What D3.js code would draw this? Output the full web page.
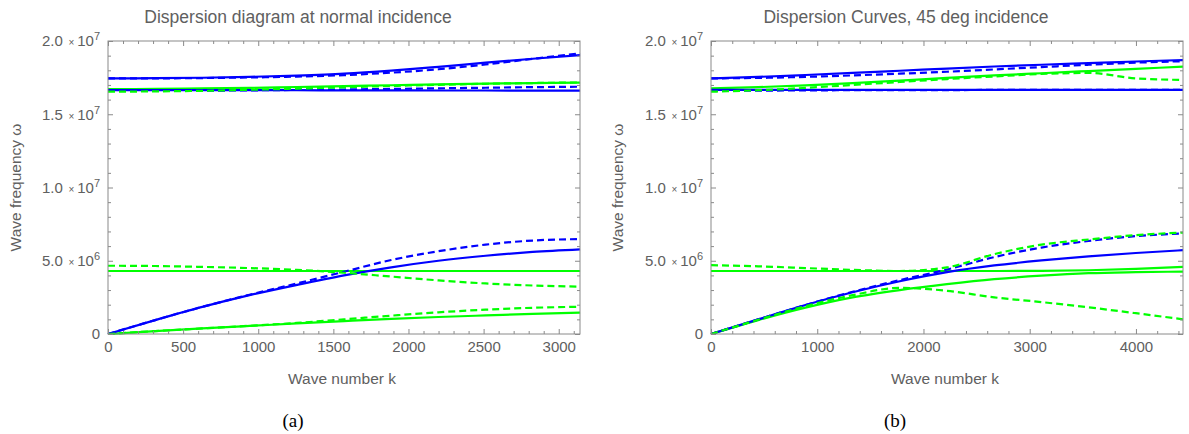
<!DOCTYPE html>
<html><head><meta charset="utf-8">
<script src="https://cdn.jsdelivr.net/npm/d3@7"></script>
<style>
body{margin:0;background:#fff}
svg{display:block}
</style>
</head><body>
<svg id="chart" width="1189" height="434"></svg>
<script>
// ---------- DATA (frequencies in units of 10^6) ----------
const titleA = "Dispersion diagram at normal incidence";
const titleB = "Dispersion Curves, 45 deg incidence";
const captionA = "(a)";
const captionB = "(b)";
const xLabel = "Wave number k";
const yLabel = "Wave frequency \u03c9";

const yMajorTicks = [0, 5, 10, 15, 20];
const yTickMantissa = ["0", "5.0", "1.0", "1.5", "2.0"];
const yTickExponent = ["", "6", "7", "7", "7"];

const xTicksNormal = [0, 500, 1000, 1500, 2000, 2500, 3000];
const xTicksOblique = [0, 1000, 2000, 3000, 4000];
const xMaxNormal = 3141.6;
const xMaxOblique = 4443;

// Panel (a): normal incidence
const kNormal = [0, 314, 628, 942, 1257, 1571, 1885, 2199, 2513, 2827, 3142];
const normalGreenSolid1  = [0, 0.20, 0.38, 0.55, 0.72, 0.88, 1.03, 1.16, 1.27, 1.38, 1.46];
const normalGreenDashed1 = [0, 0.20, 0.38, 0.56, 0.76, 1.00, 1.25, 1.48, 1.66, 1.79, 1.86];
const normalBlueSolid1   = [0, 0.95, 1.85, 2.65, 3.35, 4.00, 4.55, 5.00, 5.34, 5.60, 5.78];
const normalBlueDashed1  = [0, 0.95, 1.85, 2.68, 3.45, 4.25, 5.05, 5.65, 6.10, 6.38, 6.48];
const normalGreenSolid2  = [4.30, 4.30, 4.30, 4.30, 4.30, 4.30, 4.30, 4.30, 4.30, 4.30, 4.30];
const normalGreenDashed2 = [4.66, 4.64, 4.58, 4.50, 4.38, 4.18, 3.92, 3.66, 3.45, 3.31, 3.23];
const normalBlueSolid3   = [16.65, 16.65, 16.65, 16.64, 16.64, 16.63, 16.63, 16.62, 16.62, 16.61, 16.61];
const normalBlueDashed3  = [16.59, 16.60, 16.61, 16.63, 16.66, 16.69, 16.73, 16.77, 16.81, 16.85, 16.88];
const normalGreenSolid3  = [16.72, 16.73, 16.76, 16.80, 16.86, 16.92, 16.98, 17.04, 17.09, 17.13, 17.16];
const normalGreenDashed3 = [16.54, 16.56, 16.60, 16.67, 16.75, 16.84, 16.93, 17.01, 17.08, 17.13, 17.17];
const normalBlueSolid4   = [17.45, 17.46, 17.49, 17.55, 17.64, 17.77, 17.98, 18.24, 18.52, 18.79, 19.04];
const normalBlueDashed4  = [17.45, 17.45, 17.47, 17.51, 17.57, 17.67, 17.84, 18.07, 18.40, 18.78, 19.16];

// Panel (b): 45 deg incidence
const kOblique = [0, 444, 889, 1333, 1777, 2221, 2666, 3110, 3554, 3999, 4443];
const obliqueGreenSolid1  = [0, 0.95, 1.80, 2.50, 3.00, 3.40, 3.74, 3.98, 4.15, 4.22, 4.26];
const obliqueGreenDashed1 = [0, 0.97, 1.90, 2.65, 3.15, 2.95, 2.50, 2.18, 1.82, 1.42, 1.00];
const obliqueBlueSolid1   = [0, 1.00, 1.98, 2.85, 3.60, 4.22, 4.68, 5.02, 5.30, 5.53, 5.72];
const obliqueBlueDashed1  = [0, 1.00, 1.98, 2.88, 3.68, 4.40, 5.25, 5.90, 6.35, 6.68, 6.86];
const obliqueGreenSolid2  = [4.30, 4.30, 4.30, 4.30, 4.30, 4.30, 4.30, 4.31, 4.35, 4.45, 4.58];
const obliqueGreenDashed2 = [4.70, 4.62, 4.50, 4.38, 4.30, 4.55, 5.45, 6.10, 6.45, 6.75, 6.92];
const obliqueBlueSolid3   = [16.66, 16.66, 16.66, 16.66, 16.66, 16.66, 16.66, 16.66, 16.66, 16.66, 16.66];
const obliqueBlueDashed3  = [16.60, 16.61, 16.63, 16.64, 16.65, 16.65, 16.66, 16.66, 16.66, 16.66, 16.66];
const obliqueGreenSolid3  = [16.77, 16.85, 16.97, 17.12, 17.30, 17.48, 17.65, 17.80, 17.95, 18.10, 18.25];
const obliqueGreenDashed3 = [16.54, 16.64, 16.80, 17.00, 17.20, 17.40, 17.58, 17.75, 17.82, 17.45, 17.34];
const obliqueBlueSolid4   = [17.45, 17.55, 17.68, 17.82, 17.97, 18.12, 18.26, 18.38, 18.49, 18.60, 18.70];
const obliqueBlueDashed4  = [17.45, 17.48, 17.55, 17.65, 17.77, 17.90, 18.06, 18.22, 18.38, 18.52, 18.62];

// ---------- STYLE ----------
const BLUE = "#0000ff", GREEN = "#00ff00";
const FRAME = "#8a8a8a", TEXT = "#606060";
const SANS = "'Liberation Sans', Arial, sans-serif";
const SERIF = "'Liberation Serif', 'DejaVu Serif', serif";

const panels = [
  {
    title: titleA, caption: captionA, k: kNormal, xMax: xMaxNormal,
    xTicks: xTicksNormal, xMinorStep: 100,
    left: 108, right: 580, titleX: 298, captionX: 293, yLabX: 21,
    curves: [
      [normalGreenSolid1, GREEN, false], [normalGreenSolid2, GREEN, false], [normalGreenSolid3, GREEN, false],
      [normalBlueSolid1, BLUE, false], [normalBlueSolid3, BLUE, false], [normalBlueSolid4, BLUE, false],
      [normalBlueDashed1, BLUE, true], [normalBlueDashed3, BLUE, true], [normalBlueDashed4, BLUE, true],
      [normalGreenDashed1, GREEN, true], [normalGreenDashed2, GREEN, true], [normalGreenDashed3, GREEN, true]
    ]
  },
  {
    title: titleB, caption: captionB, k: kOblique, xMax: xMaxOblique,
    xTicks: xTicksOblique, xMinorStep: 200,
    left: 711, right: 1183, titleX: 906, captionX: 895, yLabX: 623,
    curves: [
      [obliqueGreenSolid1, GREEN, false], [obliqueGreenSolid2, GREEN, false], [obliqueGreenSolid3, GREEN, false],
      [obliqueBlueSolid1, BLUE, false], [obliqueBlueSolid3, BLUE, false], [obliqueBlueSolid4, BLUE, false],
      [obliqueBlueDashed1, BLUE, true], [obliqueBlueDashed3, BLUE, true], [obliqueBlueDashed4, BLUE, true],
      [obliqueGreenDashed1, GREEN, true], [obliqueGreenDashed2, GREEN, true], [obliqueGreenDashed3, GREEN, true]
    ]
  }
];

const svg = d3.select("#chart");
const TOP = 41, BOTTOM = 334;

panels.forEach(p => {
  const x = d3.scaleLinear().domain([0, p.xMax]).range([p.left, p.right]);
  const y = d3.scaleLinear().domain([0, 20]).range([BOTTOM, TOP]);
  const g = svg.append("g");

  // curves
  const line = d3.line().x((d, i) => x(p.k[i])).y(d => y(d)).curve(d3.curveMonotoneX);
  p.curves.forEach(([vals, col, dashed]) => {
    g.append("path").attr("d", line(vals))
      .attr("fill", "none").attr("stroke", col).attr("stroke-width", 2.2)
      .attr("stroke-dasharray", dashed ? "7,4" : null);
  });

  // frame
  g.append("rect").attr("x", p.left).attr("y", TOP)
    .attr("width", p.right - p.left).attr("height", BOTTOM - TOP)
    .attr("fill", "none").attr("stroke", FRAME).attr("stroke-width", 1);

  const xMinor = d3.range(0, p.xMax, p.xMinorStep).filter(v => !p.xTicks.includes(v));
  const yMinor = d3.range(0, 20, 1).filter(v => !yMajorTicks.includes(v));

  function styleAxis(sel) {
    sel.select(".domain").remove();
    sel.selectAll(".tick line").attr("stroke", FRAME);
    sel.selectAll("text").attr("fill", TEXT).attr("font-size", 15)
      .style("font-family", SANS);
  }

  // bottom
  g.append("g").attr("transform", `translate(0,${BOTTOM})`)
    .call(d3.axisBottom(x).tickValues(p.xTicks).tickSize(-5).tickPadding(7).tickFormat(d3.format("d")))
    .call(styleAxis);
  g.append("g").attr("transform", `translate(0,${BOTTOM})`)
    .call(d3.axisBottom(x).tickValues(xMinor).tickSize(-3).tickFormat(""))
    .call(styleAxis);
  // top
  g.append("g").attr("transform", `translate(0,${TOP})`)
    .call(d3.axisTop(x).tickValues(p.xTicks).tickSize(-5).tickFormat(""))
    .call(styleAxis);
  g.append("g").attr("transform", `translate(0,${TOP})`)
    .call(d3.axisTop(x).tickValues(xMinor).tickSize(-3).tickFormat(""))
    .call(styleAxis);
  // left
  const la = g.append("g").attr("transform", `translate(${p.left},0)`)
    .call(d3.axisLeft(y).tickValues(yMajorTicks).tickSize(-5).tickPadding(8).tickFormat(""))
    .call(styleAxis);
  la.selectAll(".tick text").each(function(d, i) {
    const t = d3.select(this);
    t.text(null);
    t.append("tspan").text(yTickMantissa[i]);
    if (yTickExponent[i]) {
      t.append("tspan").text("\u2009");
      t.append("tspan").attr("font-size", 10).text(" \u00d7 ");
      t.append("tspan").text("10");
      t.append("tspan").attr("font-size", 11).attr("dy", "-0.55em").text(yTickExponent[i]);
    }
  });
  g.append("g").attr("transform", `translate(${p.left},0)`)
    .call(d3.axisLeft(y).tickValues(yMinor).tickSize(-3).tickFormat(""))
    .call(styleAxis);
  // right
  g.append("g").attr("transform", `translate(${p.right},0)`)
    .call(d3.axisRight(y).tickValues(yMajorTicks).tickSize(-5).tickFormat(""))
    .call(styleAxis);
  g.append("g").attr("transform", `translate(${p.right},0)`)
    .call(d3.axisRight(y).tickValues(yMinor).tickSize(-3).tickFormat(""))
    .call(styleAxis);

  // title
  g.append("text").attr("x", p.titleX).attr("y", 23).attr("text-anchor", "middle")
    .style("font-family", SANS).attr("font-size", 17.5).attr("fill", TEXT).text(p.title);
  // x label
  g.append("text").attr("x", (p.left + p.right) / 2 - 2).attr("y", 384).attr("text-anchor", "middle")
    .style("font-family", SANS).attr("font-size", 15.5).attr("fill", TEXT).text(xLabel);
  // y label
  g.append("text").attr("transform", `translate(${p.yLabX},${(TOP + BOTTOM) / 2}) rotate(-90)`)
    .attr("text-anchor", "middle").style("font-family", SANS)
    .attr("font-size", 15.5).attr("fill", TEXT).text(yLabel);
  // caption
  g.append("text").attr("x", p.captionX).attr("y", 427).attr("text-anchor", "middle")
    .style("font-family", SERIF)
    .attr("font-size", 19).attr("fill", "#000").text(p.caption);
});
</script>
</body></html>
